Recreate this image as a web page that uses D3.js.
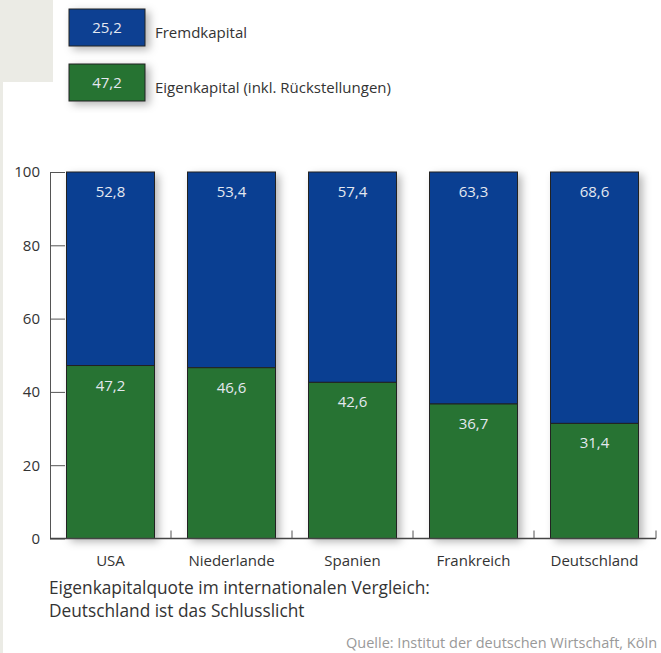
<!DOCTYPE html>
<html>
<head>
<meta charset="utf-8">
<script src="https://cdn.jsdelivr.net/npm/d3@7"></script>
<style>
  body { margin: 0; background: #fff; }
  text { font-family: "Open Sans", "Noto Sans", sans-serif; }
</style>
</head>
<body>
<div id="chart"></div>
<script>
// data
const countries = ["USA", "Niederlande", "Spanien", "Frankreich", "Deutschland"];
const eigenkapital = [47.2, 46.6, 42.6, 36.7, 31.4];
const fremdkapital = [52.8, 53.4, 57.4, 63.3, 68.6];
const yTicks = [0, 20, 40, 60, 80, 100];
const legendItems = ["Fremdkapital", "Eigenkapital (inkl. Rückstellungen)"];
const legendValues = [25.2, 47.2];

const W = 661, H = 653;
const blue = "#0a3f92", green = "#277333";
const fmt = v => d3.format(".1f")(v).replace(".", ",");

const svg = d3.select("#chart").append("svg")
    .attr("width", W).attr("height", H);

// soft drop shadow like the print original
let defs = svg.append("defs");
defs.append("filter").attr("id", "shadow")
    .attr("x", "-20%").attr("y", "-20%").attr("width", "150%").attr("height", "150%")
  .append("feDropShadow")
    .attr("dx", 4).attr("dy", 3).attr("stdDeviation", 4)
    .attr("flood-color", "#000").attr("flood-opacity", 0.3);

// light grey page background bits on the left
svg.append("rect").attr("x", 0).attr("y", 0).attr("width", 53).attr("height", 82).attr("fill", "#ebebe5");
svg.append("rect").attr("x", 0).attr("y", 0).attr("width", 3).attr("height", H).attr("fill", "#ebebe5");

let x = d3.scaleBand().domain(countries).range([50, 655]).paddingInner(33 / 121).paddingOuter(16.5 / 121);
let y = d3.scaleLinear().domain([0, 100]).range([538.5, 172]);

// legend
let legend = svg.append("g").attr("id", "legend");
legendItems.forEach((name, i) => {
    let g = legend.append("g").attr("transform", "translate(69," + (9 + i * 55) + ")");
    g.append("rect").attr("width", 76).attr("height", 37)
        .attr("fill", i == 0 ? blue : green)
        .attr("stroke", "#222").attr("stroke-width", 1)
        .attr("filter", "url(#shadow)");
    g.append("text").text(fmt(legendValues[i]))
        .attr("x", 38).attr("y", 24).attr("text-anchor", "middle")
        .attr("font-size", 15).attr("fill", "#e4e8f0");
    g.append("text").text(name)
        .attr("x", 86).attr("y", 29)
        .attr("font-size", 15).attr("fill", "#333");
});

// bars
let bars = svg.append("g").attr("id", "bars");
let groups = bars.selectAll("g").data(countries).enter().append("g")
    .attr("transform", d => "translate(" + x(d) + ",0)");

groups.append("rect")
    .attr("y", (d, i) => y(eigenkapital[i] + fremdkapital[i]))
    .attr("width", x.bandwidth())
    .attr("height", (d, i) => y(0) - y(eigenkapital[i] + fremdkapital[i]))
    .attr("fill", "#fff")
    .attr("filter", "url(#shadow)");

groups.append("rect")
    .attr("y", (d, i) => y(eigenkapital[i] + fremdkapital[i]))
    .attr("width", x.bandwidth())
    .attr("height", (d, i) => y(eigenkapital[i]) - y(eigenkapital[i] + fremdkapital[i]))
    .attr("fill", blue).attr("stroke", "#222").attr("stroke-width", 1);

groups.append("rect")
    .attr("y", (d, i) => y(eigenkapital[i]))
    .attr("width", x.bandwidth())
    .attr("height", (d, i) => y(0) - y(eigenkapital[i]))
    .attr("fill", green).attr("stroke", "#222").attr("stroke-width", 1);

groups.append("text").text((d, i) => fmt(fremdkapital[i]))
    .attr("x", x.bandwidth() / 2)
    .attr("y", (d, i) => y(eigenkapital[i] + fremdkapital[i]) + 25)
    .attr("text-anchor", "middle").attr("font-size", 15).attr("fill", "#e4e8f0");

groups.append("text").text((d, i) => fmt(eigenkapital[i]))
    .attr("x", x.bandwidth() / 2)
    .attr("y", (d, i) => y(eigenkapital[i]) + 25)
    .attr("text-anchor", "middle").attr("font-size", 15).attr("fill", "#e4e8f0");

// y axis
let yAxis = svg.append("g").attr("transform", "translate(50,0)")
    .call(d3.axisRight(y).tickValues(yTicks).tickSize(15).tickSizeOuter(0).tickFormat(d3.format("d")));
yAxis.select(".domain").attr("stroke", "#555");
yAxis.selectAll(".tick line").attr("stroke", "#555");
yAxis.selectAll(".tick text").attr("x", -10).attr("text-anchor", "end")
    .attr("font-size", 15).attr("fill", "#333").attr("font-family", "Open Sans");

// x axis with ticks at band boundaries
let xAxis = svg.append("g").attr("transform", "translate(0," + y(0) + ")");
xAxis.append("line").attr("x1", 50).attr("x2", 656).attr("stroke", "#444").attr("stroke-width", 1.5);
let bounds = countries.map(c => x(c) - x.step() * x.paddingInner() / 2).slice(1).concat([656]);
xAxis.selectAll(".btick").data(bounds).enter().append("line")
    .attr("x1", d => d).attr("x2", d => d).attr("y1", 0).attr("y2", -8)
    .attr("stroke", "#555");
xAxis.selectAll(".lbl").data(countries).enter().append("text")
    .text(d => d)
    .attr("x", d => x(d) + x.bandwidth() / 2).attr("y", 27)
    .attr("text-anchor", "middle").attr("font-size", 15).attr("fill", "#333");

// caption and source
svg.append("text").text("Eigenkapitalquote im internationalen Vergleich:")
    .attr("x", 49).attr("y", 594).attr("font-size", 17.3).attr("fill", "#333");
svg.append("text").text("Deutschland ist das Schlusslicht")
    .attr("x", 49).attr("y", 617).attr("font-size", 17.3).attr("fill", "#333");
svg.append("text").text("Quelle: Institut der deutschen Wirtschaft, Köln")
    .attr("x", 346).attr("y", 648).attr("font-size", 14.5).attr("fill", "#999");
</script>
</body>
</html>
